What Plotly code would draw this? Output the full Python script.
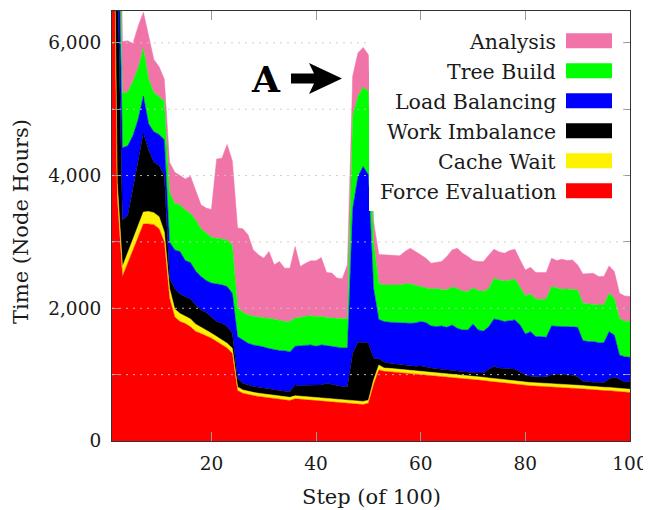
import plotly.graph_objects as go

steps = list(range(1, 101))

force_evaluation = [
    10300, 3670, 2480, 2680, 2880, 3080, 3270, 3270, 3260, 3200,
    3000, 2150, 1870, 1800, 1770, 1720, 1650, 1620, 1590, 1550,
    1500, 1450, 1400, 1320, 760, 720, 700, 685, 672, 660,
    650, 640, 630, 620, 610, 635, 628, 622, 616, 610,
    603, 597, 590, 583, 575, 568, 562, 556, 550, 570,
    850, 1071, 1050, 1045, 1038, 1030, 1022, 1015, 1008, 1000,
    993, 986, 978, 970, 962, 955, 948, 940, 932, 925,
    918, 910, 900, 890, 880, 872, 865, 858, 850, 840,
    832, 826, 820, 815, 810, 805, 800, 798, 795, 790,
    782, 775, 770, 765, 760, 758, 752, 745, 738, 730]

cache_wait = [
    700, 230, 150, 150, 160, 170, 180, 190, 180, 180,
    150, 150, 120, 120, 110, 120, 110, 90, 80, 74,
    74, 74, 73, 78, 55, 50, 48, 48, 48, 48,
    48, 48, 48, 48, 48, 47, 47, 47, 47, 47,
    47, 47, 47, 47, 47, 47, 47, 47, 47, 45,
    70, 75, 50, 50, 50, 50, 50, 50, 50, 50,
    50, 50, 50, 50, 50, 50, 50, 50, 50, 50,
    50, 50, 50, 50, 50, 50, 50, 50, 50, 50,
    50, 50, 50, 50, 50, 50, 50, 50, 50, 50,
    50, 50, 50, 50, 50, 50, 50, 50, 50, 50]

work_imbalance = [
    1000, 3400, 700, 570, 760, 1000, 1190, 920, 760, 770,
    850, 150, 310, 290, 290, 300, 290, 265, 265, 246,
    226, 251, 251, 226, 131, 100, 97, 87, 90, 87,
    87, 82, 82, 82, 87, 163, 155, 171, 182, 188,
    195, 226, 213, 205, 198, 205, 713, 880, 893, 858,
    327, 94, 90, 75, 72, 70, 73, 75, 67, 80,
    67, 64, 62, 60, 58, 55, 52, 55, 53, 55,
    57, 70, 130, 181, 170, 178, 175, 173, 140, 105,
    93, 92, 95, 103, 140, 151, 155, 152, 145, 130,
    68, 65, 65, 70, 70, 127, 158, 135, 97, 120]

load_balancing = [
    1000, 1490, 1090, 1050, 800, 600, 560, 400, 460, 470,
    540, 550, 580, 645, 550, 550, 510, 505, 485, 510,
    570, 578, 604, 603, 628, 654, 628, 628, 625, 623,
    608, 608, 603, 610, 598, 583, 608, 598, 603, 583,
    603, 568, 575, 583, 583, 583, 2178, 2503, 2647, 2538,
    1053, 590, 610, 620, 625, 625, 630, 634, 655, 670,
    674, 634, 634, 654, 644, 689, 649, 628, 638, 734,
    648, 628, 640, 718, 724, 699, 724, 743, 709, 618,
    673, 605, 608, 595, 734, 718, 719, 724, 734, 744,
    613, 608, 613, 597, 602, 713, 638, 366, 386, 361]

tree_build = [
    1000, 830, 820, 810, 820, 770, 720, 670, 590, 570,
    580, 750, 700, 705, 760, 740, 770, 720, 710, 692,
    687, 687, 702, 728, 441, 416, 427, 432, 430, 437,
    457, 462, 457, 440, 457, 427, 422, 442, 442, 442,
    432, 422, 425, 432, 442, 437, 1400, 1206, 1197, 1257,
    700, 548, 552, 562, 567, 577, 590, 596, 565, 527,
    516, 556, 576, 546, 566, 571, 601, 587, 577, 546,
    592, 597, 580, 614, 604, 611, 606, 616, 568, 573,
    568, 563, 563, 578, 593, 578, 563, 566, 563, 563,
    563, 568, 568, 568, 568, 578, 553, 553, 534, 538]

analysis = [
    1000, 1380, 780, 770, 570, 630, 540, 630, 500, 450,
    330, 450, 470, 440, 470, 560, 440, 360, 380, 418,
    1193, 1220, 1440, 1265, 1195, 1257, 1207, 1000, 940, 900,
    1005, 815, 885, 805, 805, 1075, 770, 800, 825, 845,
    885, 680, 680, 605, 600, 815, 600, 654, 597, 553,
    300, 432, 453, 448, 448, 438, 490, 535, 510, 473,
    455, 390, 390, 424, 500, 560, 605, 570, 530, 410,
    439, 449, 500, 437, 422, 420, 450, 450, 412, 392,
    402, 402, 402, 397, 427, 417, 452, 429, 442, 377,
    442, 452, 462, 428, 428, 413, 402, 377, 381, 377]

series_names = ["Force Evaluation", "Cache Wait", "Work Imbalance",
                "Load Balancing", "Tree Build", "Analysis"]
series_values = [force_evaluation, cache_wait, work_imbalance,
                 load_balancing, tree_build, analysis]
series_colors = ["#FF0000", "#FFF200", "#000000", "#0000FF", "#00FF00", "#F074A8"]

x_tick_vals = [20, 40, 60, 80, 100]
y_tick_vals = [0, 1000, 2000, 3000, 4000, 5000, 6000]
y_tick_text = ["0", "", "2,000", "", "4,000", "", "6,000"]

FONT = "DejaVu Serif"
TXT = "#1a1a1a"
# page has an 8px body margin: figure sized so the plot area lands at page x 112..630, y 11..441
OFF = 8
W, H = 651 - OFF, 510 - OFF
ML, MR, MT, MB = 112 - OFF, 21, 11 - OFF, 69
PW, PH = W - ML - MR, H - MT - MB


def px_x(px):
    return (px - OFF - ML) / PW


def px_y(py):
    return (H - MB - (py - OFF)) / PH


fig = go.Figure()
for name, vals, color in zip(series_names, series_values, series_colors):
    fig.add_trace(go.Scatter(
        x=steps, y=vals, name=name, stackgroup="one", mode="lines",
        line=dict(width=0.5, color=color), fillcolor=color,
        showlegend=False, hoverinfo="x+y+name"))

shapes = []
for v in y_tick_vals[1:]:
    shapes.append(dict(type="line", xref="paper", yref="y", x0=0, x1=1, y0=v, y1=v,
                       line=dict(color="rgba(200,200,200,0.9)", width=1, dash="2px,5px"),
                       layer="above"))

shapes.append(dict(type="rect", xref="paper", yref="paper",
                   x0=px_x(369), x1=px_x(619), y0=px_y(211), y1=px_y(22),
                   fillcolor="white", line=dict(width=0), layer="above"))

annotations = []
legend_order = list(zip(series_names, series_colors))[::-1]
for i, (name, color) in enumerate(legend_order):
    cy = 40.8 + 30 * i
    shapes.append(dict(type="rect", xref="paper", yref="paper",
                       x0=px_x(566), x1=px_x(612), y0=px_y(cy + 7.5), y1=px_y(cy - 7.5),
                       fillcolor=color, line=dict(width=0), layer="above"))
    annotations.append(dict(text=name, xref="paper", yref="paper",
                            x=px_x(558), y=px_y(cy + 1), xanchor="right", yanchor="middle",
                            showarrow=False, font=dict(family=FONT, size=20.5, color=TXT)))

arrow_path = "M {x0},{ya} L {x1},{ya} L {x2},{yt} L {xt},{ym} L {x2},{yb} L {x1},{yc} L {x0},{yc} Z".format(
    x0=px_x(291), x1=px_x(314), x2=px_x(309), xt=px_x(342),
    ya=px_y(73.5), yc=px_y(83.5), yt=px_y(63), yb=px_y(94), ym=px_y(78.5))
shapes.append(dict(type="path", xref="paper", yref="paper", path=arrow_path,
                   fillcolor="black", line=dict(width=0), layer="above"))

annotations.append(dict(text="<b>A</b>", xref="paper", yref="paper",
                        x=px_x(266), y=px_y(79), xanchor="center", yanchor="middle",
                        showarrow=False, font=dict(family=FONT, size=36, color="black")))

annotations.append(dict(text="Step (of 100)", xref="paper", yref="paper",
                        x=px_x(371), y=px_y(497), xanchor="center", yanchor="middle",
                        showarrow=False, font=dict(family=FONT, size=21, color=TXT)))
annotations.append(dict(text="Time (Node Hours)", xref="paper", yref="paper",
                        x=px_x(21), y=px_y(222), xanchor="center", yanchor="middle",
                        textangle=-90, showarrow=False,
                        font=dict(family=FONT, size=21, color=TXT)))

fig.update_layout(
    width=W, height=H,
    margin=dict(l=ML, r=MR, t=MT, b=MB, pad=0),
    paper_bgcolor="white", plot_bgcolor="white",
    font=dict(family=FONT, size=18, color=TXT),
    shapes=shapes, annotations=annotations,
    xaxis=dict(range=[1, 100], tickvals=x_tick_vals, ticks="inside", ticklen=9,
               tickwidth=1.2, tickcolor="#999", showline=True, linecolor="#333",
               linewidth=1.2, mirror="ticks", showgrid=False, zeroline=False,
               ticklabelstandoff=6, tickfont=dict(family=FONT, size=18.5, color=TXT)),
    yaxis=dict(range=[0, 6480], tickvals=y_tick_vals, ticktext=y_tick_text,
               ticks="inside", ticklen=7, tickwidth=1.2, tickcolor="#999",
               showline=True, linecolor="#333", linewidth=1.2, mirror="ticks",
               showgrid=False, zeroline=False, ticklabelstandoff=6,
               tickfont=dict(family=FONT, size=18.5, color=TXT)),
)

fig.write_html("out.html")
